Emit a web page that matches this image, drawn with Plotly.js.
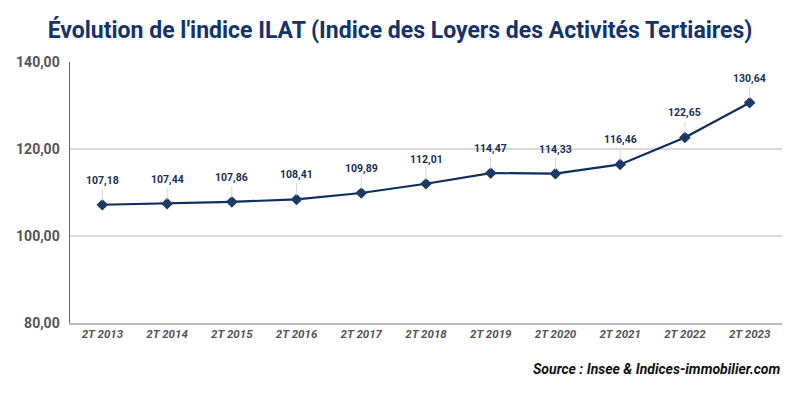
<!DOCTYPE html>
<html><head><meta charset="utf-8">
<script src="https://cdn.plot.ly/plotly-3.0.1.min.js"></script>
<style>body{margin:0;background:#fff}#c{width:800px;height:394px}</style>
</head><body><div id="c"></div>
<script>
const categories = ["2T 2013","2T 2014","2T 2015","2T 2016","2T 2017","2T 2018","2T 2019","2T 2020","2T 2021","2T 2022","2T 2023"];
const values = [107.18,107.44,107.86,108.41,109.89,112.01,114.47,114.33,116.46,122.65,130.64];
const yTicks = [80,100,120,140];
const yTickLabels = ["80,00","100,00","120,00","140,00"];
const fmt = v => v.toFixed(2).replace('.', ',');

const navy = '#0f2d5e';
const annotations = categories.map((c,i)=>({
  x: c, y: values[i], xref:'x', yref:'y',
  text: fmt(values[i]), showarrow:true, arrowhead:0, arrowwidth:1, arrowcolor:'#d8d8d8',
  ax:0, ay:-16, standoff:4, yanchor:'bottom',
  font:{family:'Roboto, Arial', size:10.5, color:'#1a2f55', weight:700}
}));
annotations.push({
  xref:'paper', yref:'paper', x:1, y:-0.175, xanchor:'right', yanchor:'middle',
  text:'<b><i>Source : Insee &amp; Indices-immobilier.com</i></b>', showarrow:false,
  font:{family:'Roboto, Arial', size:14, color:'#111'}
});

Plotly.newPlot('c',[{
  type:'scatter', mode:'lines+markers', x:categories, y:values,
  line:{color:navy, width:2.2},
  marker:{symbol:'diamond', size:9, color:'#1c3a66'},
  hoverinfo:'none'
}],{
  width:800, height:394,
  margin:{l:70, r:18, t:62, b:71},
  paper_bgcolor:'#fff', plot_bgcolor:'#fff',
  title:{text:"<b>Évolution de l'indice ILAT (Indice des Loyers des Activités Tertiaires)</b>",
    x:0.5, xanchor:'center', y:0.925, yanchor:'middle',
    font:{family:'Roboto, Arial', size:23, color:'#13336b'}},
  showlegend:false,
  xaxis:{type:'category', range:[-0.5,10.5], showgrid:false, showline:true, linecolor:'#bdbdbd', linewidth:1.5,
    ticks:'', tickfont:{family:'Roboto, Arial', size:11.5, color:'#555', style:'italic', weight:700},
    zeroline:false, fixedrange:true},
  yaxis:{range:[80,140], tickvals:yTicks, ticktext:yTickLabels, showgrid:true, gridcolor:'#d9d9d9', gridwidth:1.2,
    showline:true, linecolor:'#666', linewidth:1.5, ticks:'', ticklabelstandoff:6,
    tickfont:{family:'Roboto, Arial', size:14, color:'#555', weight:700}, zeroline:false},
  annotations:annotations
},{displayModeBar:false, staticPlot:true});
</script></body></html>
